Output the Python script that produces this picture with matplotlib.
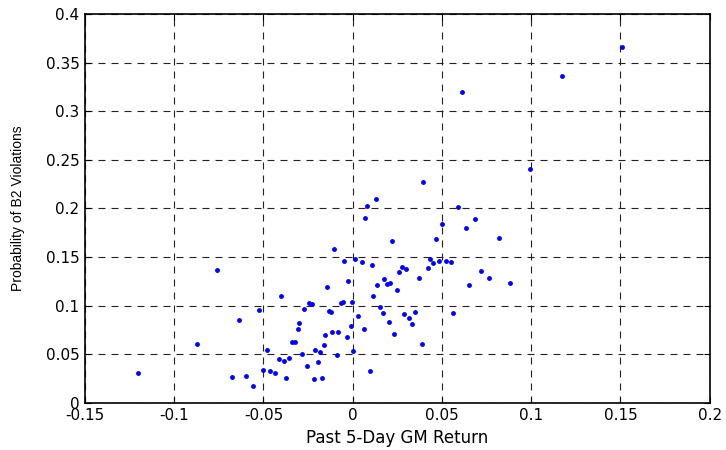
import numpy as np
import matplotlib
matplotlib.use('Agg')
import matplotlib.pyplot as plt

# past 5-day GM return vs. probability of B2 violations
ret = [-0.1205, -0.0873, -0.0759, -0.0678, -0.0639, -0.0598, -0.0557, -0.0527,
       -0.0503, -0.0479, -0.0462, -0.0436, -0.0411, -0.0404, -0.0387, -0.0374,
       -0.0355, -0.0340, -0.0323, -0.0308, -0.0299, -0.0284, -0.0275, -0.0258,
       -0.0243, -0.0226, -0.0219, -0.0211, -0.0193, -0.0185, -0.0170, -0.0163,
       -0.0155, -0.0146, -0.0131, -0.0122, -0.0114, -0.0107, -0.0084, -0.0090,
       -0.0067, -0.0056, -0.0049, -0.0034, -0.0025, -0.0010, -0.0002, 0.0000,
       0.0015, 0.0031, 0.0050, 0.0062,
       0.0106, 0.0095, 0.0112, 0.0136, 0.0153, 0.0170, 0.0177, 0.0192,
       0.0209, 0.0202, 0.0219, 0.0233, 0.0248, 0.0258, 0.0275, 0.0289,
       0.0297, 0.0314, 0.0331, 0.0348, 0.0372, 0.0387, 0.0420, 0.0435,
       0.0452, 0.0467, 0.0484, 0.0501, 0.0525, 0.0549, 0.0564, 0.0637,
       0.0654, 0.0717, 0.0766, 0.0822, 0.0880,
       0.1508, 0.1172, 0.0613, 0.0992, 0.0396, 0.0129, 0.0080, 0.0071,
       0.0589, 0.0686]
prob = [0.0302, 0.0604, 0.1365, 0.0265, 0.0851, 0.0278, 0.0172, 0.0957,
        0.0336, 0.0546, 0.0326, 0.0302, 0.0453, 0.1098, 0.0429, 0.0251,
        0.0463, 0.0628, 0.0628, 0.0755, 0.0817, 0.0501, 0.0967, 0.0381,
        0.1026, 0.1015, 0.0244, 0.0546, 0.0419, 0.0522, 0.0251, 0.0594,
        0.0697, 0.1190, 0.0943, 0.0933, 0.0724, 0.1578, 0.0724, 0.0487,
        0.1029, 0.1036, 0.1461, 0.0676, 0.1249, 0.0792, 0.1039, 0.0535,
        0.1475, 0.0889, 0.1447, 0.0758,
        0.1413, 0.0326, 0.1098, 0.1211, 0.0981, 0.0920, 0.1273, 0.1225,
        0.1235, 0.0827, 0.1660, 0.0710, 0.1156, 0.1341, 0.1399, 0.0909,
        0.1379, 0.0871, 0.0813, 0.0930, 0.1283, 0.0604, 0.1389, 0.1481,
        0.1434, 0.1684, 0.1458, 0.1842, 0.1461, 0.1447, 0.0920, 0.1797,
        0.1211, 0.1355, 0.1283, 0.1691, 0.1235,
        0.3660, 0.3358, 0.3193, 0.2407, 0.2267, 0.2093, 0.2021, 0.1903,
        0.2010, 0.1893]

xticks = [-0.15, -0.1, -0.05, 0, 0.05, 0.1, 0.15, 0.2]
yticks = [0, 0.05, 0.1, 0.15, 0.2, 0.25, 0.3, 0.35, 0.4]

plt.rcParams['font.family'] = ['DejaVu Sans']

fig = plt.figure(figsize=(7.26, 4.5), dpi=100)
ax = fig.add_axes([0.1171, 0.1051, 0.8604, 0.8638])

ax.plot(ret, prob, 'o', color=(0, 0, 1), markersize=3.5, markeredgewidth=0)

ax.set_xlim(-0.15, 0.2)
ax.set_ylim(0, 0.4)
ax.set_xticks(xticks)
ax.set_yticks(yticks)
ax.set_xticklabels(['%g' % t for t in xticks])
ax.set_yticklabels(['%g' % t for t in yticks])
ax.tick_params(direction='in', length=4, width=0.8, top=True, right=True,
               labelsize=11, pad=4)
ax.grid(True, color='#222222', linestyle=(0, (6.3, 5.4)), linewidth=0.8)
ax.set_axisbelow(True)
for s in ax.spines.values():
    s.set_linewidth(1.2)

ax.set_xlabel('Past 5-Day GM Return', fontsize=12, labelpad=4)
ax.set_ylabel('Probability of B2 Violations', fontsize=10,
              family=['Liberation Sans', 'DejaVu Sans'], va='center')
ax.yaxis.set_label_coords(-0.1065, 0.5)

fig.savefig('out.png', dpi=100)
